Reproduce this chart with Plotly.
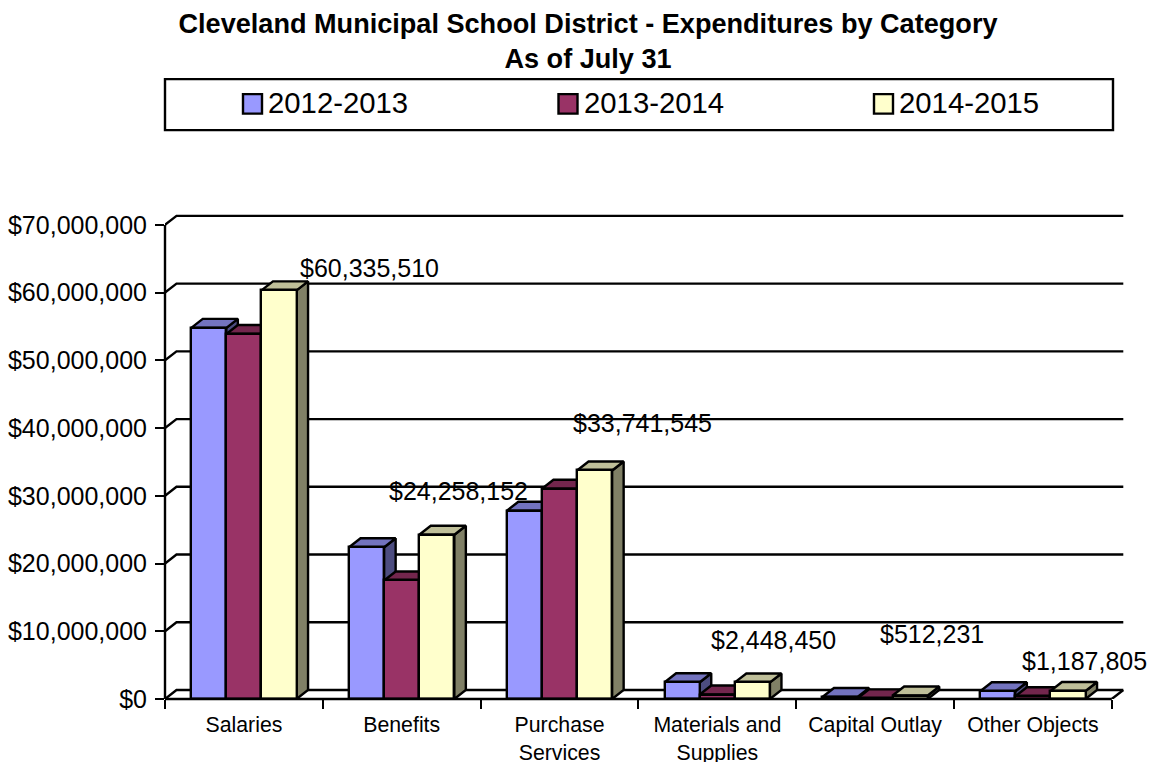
import plotly.graph_objects as go

categories = ["Salaries", "Benefits", "Purchase<br>Services", "Materials and<br>Supplies", "Capital Outlay", "Other Objects"]
series_names = ["2012-2013", "2013-2014", "2014-2015"]
values_2012 = [54800000, 22400000, 27800000, 2480000, 300000, 1150000]
values_2013 = [53900000, 17500000, 31050000, 660000, 100000, 400000]
values_2014 = [60335510, 24258152, 33741545, 2448450, 512231, 1187805]
y_ticks = [0, 10000000, 20000000, 30000000, 40000000, 50000000, 60000000, 70000000]
labelled_series = values_2014

front_colors = ["#9999FF", "#993366", "#FFFFCC"]
top_colors = ["#7373BF", "#73264D", "#BFBF99"]
side_colors = ["#4D4D80", "#4D1A33", "#808066"]

# Plot-area frame in page pixels
WIDTH, HEIGHT = 1150, 762
LEFT, RIGHT, TOP, BOTTOM = 165, 1126, 212, 699.5
CAT_PX = 157.8
VAL_PX = 67.8 / 10000000
DEPTH_X_PX, DEPTH_Y_PX = 11.5, 9
LINE_W = 2.4

depth_x = DEPTH_X_PX / CAT_PX
depth_y = DEPTH_Y_PX / VAL_PX
x_max = (RIGHT - LEFT) / CAT_PX
y_max = (BOTTOM - TOP) / VAL_PX
n_cat = len(categories)
bar_width = 35.1 / CAT_PX
group_start = 0.5 - 1.5 * bar_width


def px_x(px):
    return (px - LEFT) / (RIGHT - LEFT)


def px_y(py):
    return (BOTTOM - py) / (BOTTOM - TOP)


fig = go.Figure()

# Back wall gridlines with the short diagonals down to the value axis
wall_x, wall_y = [], []
for v in y_ticks:
    wall_x += [0, depth_x, n_cat + depth_x, None]
    wall_y += [v, v + depth_y, v + depth_y, None]
wall_x += [n_cat, n_cat + depth_x, None]
wall_y += [0, depth_y, None]
fig.add_trace(go.Scatter(x=wall_x, y=wall_y, mode="lines", cliponaxis=False, zorder=0,
                         line=dict(color="#000000", width=LINE_W), hoverinfo="skip", showlegend=False))

# Each series is painted back to front: side and top faces, then the bar itself
for s, values in enumerate([values_2012, values_2013, values_2014]):
    x_side, y_side, x_top, y_top = [], [], [], []
    for c, v in enumerate(values):
        x0 = c + group_start + s * bar_width
        x1 = x0 + bar_width
        x_side += [x1, x1 + depth_x, x1 + depth_x, x1, x1, None]
        y_side += [0, depth_y, v + depth_y, v, 0, None]
        x_top += [x0, x0 + depth_x, x1 + depth_x, x1, x0, None]
        y_top += [v, v + depth_y, v + depth_y, v, v, None]
    z = 2 * s + 1
    fig.add_trace(go.Scatter(x=x_side, y=y_side, mode="lines", fill="toself", fillcolor=side_colors[s],
                             line=dict(color="#000000", width=LINE_W), zorder=z, cliponaxis=False,
                             hoverinfo="skip", showlegend=False))
    fig.add_trace(go.Scatter(x=x_top, y=y_top, mode="lines", fill="toself", fillcolor=top_colors[s],
                             line=dict(color="#000000", width=LINE_W), zorder=z, cliponaxis=False,
                             hoverinfo="skip", showlegend=False))
    fig.add_trace(go.Bar(x=[c + 0.5 for c in range(n_cat)], y=values, name=series_names[s],
                         width=bar_width, offset=-0.5 + group_start + s * bar_width,
                         marker=dict(color=front_colors[s], line=dict(color="#000000", width=LINE_W)),
                         zorder=z + 1, showlegend=False))

# Hand-placed value labels: page-pixel shift from each front bar's top centre
label_shift_x = [90, 22, 48, 21, 22, 16]
label_shift_y = [22, 44, 47, 42, 62, 30]
annotations = []
for c, v in enumerate(labelled_series):
    annotations.append(dict(x=c + group_start + 2.5 * bar_width, y=v, xref="x", yref="y",
                            text=f"${v:,.0f}", showarrow=False, xanchor="center", yanchor="middle",
                            xshift=label_shift_x[c], yshift=label_shift_y[c],
                            font=dict(family="Liberation Sans", size=25, color="#000000")))

# Value axis and category axis lines, drawn over the plot edge
shapes = [
    dict(type="line", xref="paper", yref="y", x0=0, x1=0, y0=0, y1=y_ticks[-1],
         line=dict(color="#000000", width=LINE_W), layer="above"),
    dict(type="line", xref="x", yref="paper", x0=0, x1=n_cat, y0=0, y1=0,
         line=dict(color="#000000", width=LINE_W), layer="above"),
]

# Legend panel
shapes.append(dict(type="rect", xref="paper", yref="paper", x0=px_x(165), x1=px_x(1113), y0=px_y(130), y1=px_y(79),
                   line=dict(color="#000000", width=LINE_W), fillcolor="#FFFFFF", layer="below"))
legend_swatch_px = [243, 558.5, 874]
for s, name in enumerate(series_names):
    sx = legend_swatch_px[s]
    shapes.append(dict(type="rect", xref="paper", yref="paper", x0=px_x(sx), x1=px_x(sx + 19),
                       y0=px_y(113.5), y1=px_y(94), fillcolor=front_colors[s],
                       line=dict(color="#000000", width=LINE_W)))
    annotations.append(dict(x=px_x(sx + 23), y=px_y(102), xref="paper", yref="paper", text=name,
                            showarrow=False, xanchor="left", yanchor="middle",
                            font=dict(family="Liberation Sans", size=29.3, color="#000000")))

fig.update_layout(
    width=WIDTH, height=HEIGHT, autosize=False,
    margin=dict(l=LEFT, r=WIDTH - RIGHT, t=TOP, b=HEIGHT - BOTTOM, pad=0),
    paper_bgcolor="#FFFFFF", plot_bgcolor="rgba(0,0,0,0)",
    title=dict(text="Cleveland Municipal School District - Expenditures by Category<br>As of July 31",
               x=588 / WIDTH, xanchor="center", y=1 - 33 / HEIGHT, yanchor="top",
               font=dict(family="Liberation Sans", size=27.1, color="#000000", weight="bold")),
    xaxis=dict(range=[0, x_max], tickmode="array", tickvals=[c + 0.5 for c in range(n_cat)], ticktext=categories,
               ticks="", showline=False, showgrid=False, zeroline=False, ticklabelstandoff=11, automargin=False,
               tickfont=dict(family="Liberation Sans", size=21.3, color="#000000"),
               minor=dict(tickmode="array", tickvals=list(range(n_cat + 1)), ticks="outside", ticklen=9, tickwidth=LINE_W,
                          tickcolor="#000000", showgrid=False)),
    yaxis=dict(range=[0, y_max], tickmode="array", tickvals=y_ticks, tickformat="$,.0f", ticks="outside", ticklen=9,
               tickwidth=LINE_W, tickcolor="#000000", showline=False, showgrid=False, zeroline=False, automargin=False,
               ticklabelstandoff=3, tickfont=dict(family="Liberation Sans", size=25, color="#000000")),
    annotations=annotations, shapes=shapes, showlegend=False, bargap=0,
)

fig.write_html("out.html")
